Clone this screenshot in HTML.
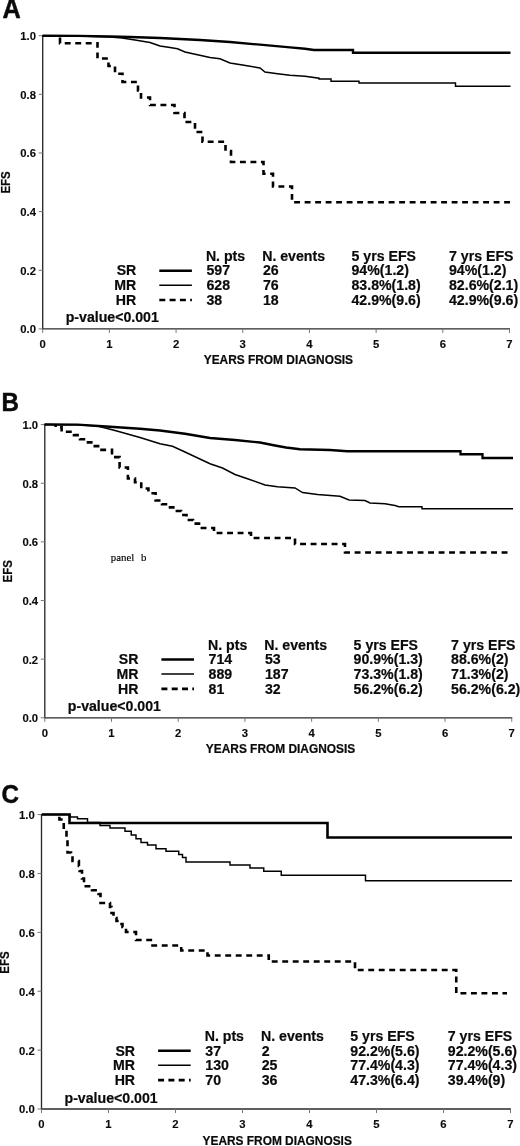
<!DOCTYPE html>
<html lang="en">
<head>
<meta charset="utf-8">
<title>EFS by risk group</title>
<style>
html,body{margin:0;padding:0;background:#fff;}
body{width:520px;height:1146px;overflow:hidden;}
svg{display:block;}
text{font-family:'Liberation Sans', Arial, Helvetica, sans-serif;font-weight:bold;fill:#0a0a0a;stroke:#0a0a0a;stroke-width:0.2px;}
.lg{font-size:14.15px;}
.tk{font-size:11.3px;stroke-width:0.12px;}
.ax{font-size:11.9px;}
.ef{font-size:12.4px;}
.pl{font-size:26px;stroke-width:0.5px;}
.cv{fill:none;stroke:#000;stroke-linejoin:miter;stroke-linecap:butt;}
.axl{fill:none;stroke:#2a2a2a;stroke-width:1.35;}
.tick{fill:none;stroke:#777;stroke-width:1;}
.note{font-family:'Liberation Serif','Times New Roman',serif;font-weight:normal;font-size:10.8px;word-spacing:4.2px;fill:#000;stroke:#000;stroke-width:0.15px;}
</style>
</head>
<body>
<svg width="520" height="1146" viewBox="0 0 520 1146">
<rect x="0" y="0" width="520" height="1146" fill="#ffffff"/>

<g>
<text class="pl" style="font-size:27.5px" transform="translate(2.5,18) scale(0.92,1)">A</text>
<path class="axl" d="M42.7,35.2 V328.9 H510"/>
<path class="tick" d="M38.7,328.9 H42.7 M38.7,270.26 H42.7 M38.7,211.62 H42.7 M38.7,152.98 H42.7 M38.7,94.34 H42.7 M38.7,35.7 H42.7 M42.7,328.9 V332.9 M109.386,328.9 V332.9 M176.071,328.9 V332.9 M242.757,328.9 V332.9 M309.443,328.9 V332.9 M376.129,328.9 V332.9 M442.814,328.9 V332.9 M509.5,328.9 V332.9"/>
<text class="tk" text-anchor="end" x="36" y="333.3">0.0</text>
<text class="tk" text-anchor="end" x="36" y="274.66">0.2</text>
<text class="tk" text-anchor="end" x="36" y="216.02">0.4</text>
<text class="tk" text-anchor="end" x="36" y="157.38">0.6</text>
<text class="tk" text-anchor="end" x="36" y="98.74">0.8</text>
<text class="tk" text-anchor="end" x="36" y="40.1">1.0</text>
<text class="tk" text-anchor="middle" x="42.7" y="347.8">0</text>
<text class="tk" text-anchor="middle" x="109.386" y="347.8">1</text>
<text class="tk" text-anchor="middle" x="176.071" y="347.8">2</text>
<text class="tk" text-anchor="middle" x="242.757" y="347.8">3</text>
<text class="tk" text-anchor="middle" x="309.443" y="347.8">4</text>
<text class="tk" text-anchor="middle" x="376.129" y="347.8">5</text>
<text class="tk" text-anchor="middle" x="442.814" y="347.8">6</text>
<text class="tk" text-anchor="middle" x="509.5" y="347.8">7</text>
<text class="ax" text-anchor="middle" x="278.4" y="364.4">YEARS FROM DIAGNOSIS</text>
<text class="ef" text-anchor="middle" transform="translate(10.1,182.4) rotate(-90) scale(0.93,1)">EFS</text>
<path class="cv" stroke-width="1.45" d="M42.5,35.75 L78,36 L110,37 L122,38 L135,40 L150,42.5 L160,46 L170,47.5 L177.5,48.75 L185,52 L210,57.5 L220,58.75 L230,63 L242.5,65 L260,68 L265,72 L277.5,73.75 L290,75.3 L305,76.25 L319,78.25 V79 H331 V81.25 H359 V83 H455.5 V86.3 H510.5"/>
<path class="cv" stroke-width="2.6" stroke-dasharray="5.9 4.6" stroke-dashoffset="8.8" d="M60,35.75 V43.2 H97.5 V58.5 H108.5 V66 H115 V73.75 H122.5 V82 H138 V90.5 H141 V97.5 H150 V105 H174.5 V113 H184.5 V122 H195 V132 H202.5 V141.75 H225.5 V151 H231 V162 H263.5 V173.75 H273 V186.5 H292 V202.3 H510.5"/>
<path class="cv" stroke-width="2.35" d="M42.5,35.75 L78,35.9 L110,36.5 L130,37 L160,38 L200,40 L230,42 L260,44.7 L290,47.3 L305,48.75 L314,50 H353 V52.7 H510.5"/>
<text class="lg" x="205.9" y="260.9">N. pts</text>
<text class="lg" x="262.2" y="260.9">N. events</text>
<text class="lg" x="351.5" y="260.9">5 yrs EFS</text>
<text class="lg" x="449" y="260.9">7 yrs EFS</text>
<text class="lg" text-anchor="end" x="136.3" y="275.4">SR</text>
<text class="lg" x="206.5" y="275.4">597</text>
<text class="lg" x="262.9" y="275.4">26</text>
<text class="lg" x="351.5" y="275.4">94%(1.2)</text>
<text class="lg" x="449" y="275.4">94%(1.2)</text>
<path class="cv" stroke-width="2.5" d="M159.3,270.7 H191.9"/>
<text class="lg" text-anchor="end" x="136.3" y="289.9">MR</text>
<text class="lg" x="206.5" y="289.9">628</text>
<text class="lg" x="262.9" y="289.9">76</text>
<text class="lg" x="351.5" y="289.9">83.8%(1.8)</text>
<text class="lg" x="449" y="289.9">82.6%(2.1)</text>
<path class="cv" stroke-width="1.5" d="M159.3,285.2 H191.9"/>
<text class="lg" text-anchor="end" x="136.3" y="304.7">HR</text>
<text class="lg" x="206.5" y="304.7">38</text>
<text class="lg" x="262.9" y="304.7">18</text>
<text class="lg" x="351.5" y="304.7">42.9%(9.6)</text>
<text class="lg" x="449" y="304.7">42.9%(9.6)</text>
<path class="cv" stroke-width="2.6" stroke-dasharray="6 4.3" d="M159.3,300 H191.9"/>
<text class="lg" x="65.7" y="322.4">p-value&lt;0.001</text>
</g>
<g>
<text class="pl" style="font-size:26.3px" transform="translate(1.5,410.6) scale(0.92,1)">B</text>
<path class="axl" d="M44.8,424.1 V717.8 H512.25"/>
<path class="tick" d="M40.8,717.8 H44.8 M40.8,659.16 H44.8 M40.8,600.52 H44.8 M40.8,541.88 H44.8 M40.8,483.24 H44.8 M40.8,424.6 H44.8 M44.8,717.8 V721.8 M111.507,717.8 V721.8 M178.214,717.8 V721.8 M244.921,717.8 V721.8 M311.629,717.8 V721.8 M378.336,717.8 V721.8 M445.043,717.8 V721.8 M511.75,717.8 V721.8"/>
<text class="tk" text-anchor="end" x="38.1" y="722.2">0.0</text>
<text class="tk" text-anchor="end" x="38.1" y="663.56">0.2</text>
<text class="tk" text-anchor="end" x="38.1" y="604.92">0.4</text>
<text class="tk" text-anchor="end" x="38.1" y="546.28">0.6</text>
<text class="tk" text-anchor="end" x="38.1" y="487.64">0.8</text>
<text class="tk" text-anchor="end" x="38.1" y="429">1.0</text>
<text class="tk" text-anchor="middle" x="44.8" y="736.7">0</text>
<text class="tk" text-anchor="middle" x="111.507" y="736.7">1</text>
<text class="tk" text-anchor="middle" x="178.214" y="736.7">2</text>
<text class="tk" text-anchor="middle" x="244.921" y="736.7">3</text>
<text class="tk" text-anchor="middle" x="311.629" y="736.7">4</text>
<text class="tk" text-anchor="middle" x="378.336" y="736.7">5</text>
<text class="tk" text-anchor="middle" x="445.043" y="736.7">6</text>
<text class="tk" text-anchor="middle" x="511.75" y="736.7">7</text>
<text class="ax" text-anchor="middle" x="280.5" y="753.3">YEARS FROM DIAGNOSIS</text>
<text class="ef" text-anchor="middle" transform="translate(12.2,571.3) rotate(-90) scale(0.93,1)">EFS</text>
<path class="cv" stroke-width="1.45" d="M44.5,424.5 L77.5,424.9 L97.5,426 L115,430.5 L140,437.5 L160,443.75 L172.5,446.25 L185,452 L210,463.75 L222.5,468 L235,474.5 L247.5,478.75 L265,485 L277.5,486.75 L295,488 L302.5,492.5 L317.5,494.5 L340,496.25 L349,500 L365,500.5 L370,503 L385,503.75 L395,505.5 L398.75,506.75 H422 V508.75 H513"/>
<path class="cv" stroke-width="2.6" stroke-dasharray="5.9 4.6" stroke-dashoffset="3.5" d="M55.6,424.5 V427 H61.6 V431.75 H74 V435.1 H80 V439.25 H86.5 V442.4 H93.3 V446.1 H99.6 V449.9 H112 V457.1 H119.6 V467.5 H127.9 V478.5 H135 V482.25 H141.25 V488.5 H148.4 V493.2 H155.6 V500.5 H162 V504.25 H168 V507.4 H175 V511 H181 V515 H186.5 V520 H193 V523.6 H199 V528 H214 V533 H251 V538 H295 V544 H345 V552.5 H511"/>
<path class="cv" stroke-width="2.3" d="M44.5,424.5 L77.5,424.7 L102.5,426.25 L140,428.75 L160,430.5 L185,433.75 L210,438 L235,440 L260,442.5 L275,445.5 L286,447.5 L300,449.25 L330,450 L347.5,451.25 H460.5 V454.25 H482.5 V458 H513"/>
<text class="lg" x="208" y="649.8">N. pts</text>
<text class="lg" x="264.3" y="649.8">N. events</text>
<text class="lg" x="353.6" y="649.8">5 yrs EFS</text>
<text class="lg" x="451.1" y="649.8">7 yrs EFS</text>
<text class="lg" text-anchor="end" x="138.4" y="664.3">SR</text>
<text class="lg" x="208.6" y="664.3">714</text>
<text class="lg" x="265" y="664.3">53</text>
<text class="lg" x="353.6" y="664.3">90.9%(1.3)</text>
<text class="lg" x="451.1" y="664.3">88.6%(2)</text>
<path class="cv" stroke-width="2.5" d="M161.4,659.6 H194"/>
<text class="lg" text-anchor="end" x="138.4" y="678.8">MR</text>
<text class="lg" x="208.6" y="678.8">889</text>
<text class="lg" x="265" y="678.8">187</text>
<text class="lg" x="353.6" y="678.8">73.3%(1.8)</text>
<text class="lg" x="451.1" y="678.8">71.3%(2)</text>
<path class="cv" stroke-width="1.5" d="M161.4,674.1 H194"/>
<text class="lg" text-anchor="end" x="138.4" y="693.6">HR</text>
<text class="lg" x="208.6" y="693.6">81</text>
<text class="lg" x="265" y="693.6">32</text>
<text class="lg" x="353.6" y="693.6">56.2%(6.2)</text>
<text class="lg" x="451.1" y="693.6">56.2%(6.2)</text>
<path class="cv" stroke-width="2.6" stroke-dasharray="6 4.3" d="M161.4,688.9 H194"/>
<text class="lg" x="67.8" y="711.3">p-value&lt;0.001</text>
<text class="note" x="110.8" y="560.8">panel b</text>
</g>
<g>
<text class="pl" style="font-size:26.3px" transform="translate(1.6,803.1) scale(0.92,1)">C</text>
<path class="axl" d="M41.5,814.1 V1109 H511"/>
<path class="tick" d="M37.5,1109 H41.5 M37.5,1050.12 H41.5 M37.5,991.24 H41.5 M37.5,932.36 H41.5 M37.5,873.48 H41.5 M37.5,814.6 H41.5 M41.5,1109 V1113 M108.5,1109 V1113 M175.5,1109 V1113 M242.5,1109 V1113 M309.5,1109 V1113 M376.5,1109 V1113 M443.5,1109 V1113 M510.5,1109 V1113"/>
<text class="tk" text-anchor="end" x="34.8" y="1113.4">0.0</text>
<text class="tk" text-anchor="end" x="34.8" y="1054.52">0.2</text>
<text class="tk" text-anchor="end" x="34.8" y="995.64">0.4</text>
<text class="tk" text-anchor="end" x="34.8" y="936.76">0.6</text>
<text class="tk" text-anchor="end" x="34.8" y="877.88">0.8</text>
<text class="tk" text-anchor="end" x="34.8" y="819">1.0</text>
<text class="tk" text-anchor="middle" x="41.5" y="1127.9">0</text>
<text class="tk" text-anchor="middle" x="108.5" y="1127.9">1</text>
<text class="tk" text-anchor="middle" x="175.5" y="1127.9">2</text>
<text class="tk" text-anchor="middle" x="242.5" y="1127.9">3</text>
<text class="tk" text-anchor="middle" x="309.5" y="1127.9">4</text>
<text class="tk" text-anchor="middle" x="376.5" y="1127.9">5</text>
<text class="tk" text-anchor="middle" x="443.5" y="1127.9">6</text>
<text class="tk" text-anchor="middle" x="510.5" y="1127.9">7</text>
<text class="ax" text-anchor="middle" x="277.2" y="1144.5">YEARS FROM DIAGNOSIS</text>
<text class="ef" text-anchor="middle" transform="translate(8.9,962.5) rotate(-90) scale(0.93,1)">EFS</text>
<path class="cv" stroke-width="1.45" d="M41.8,814.5 H70 V817 H77.5 V818.75 H87.5 V822.5 H100 V825.5 H110 V828 H125 V831.25 H131.25 V835 H136 V838.75 H141 V842.5 H147.5 V845 H156 V848.75 H166 V851.25 H178.75 V854.5 H182.5 V857.5 H186 V862 H230 V865 H250 V868 H263.75 V871.25 H281.25 V875.25 H365.5 V880.75 H512"/>
<path class="cv" stroke-width="2.6" stroke-dasharray="5.9 4.6" stroke-dashoffset="8.15" d="M59.4,814.5 V819.5 H63.75 V830 H66.5 V838 H67.5 V852.5 H71 V857.5 H72.5 V861 H78.9 V866 H79.6 V871 H82 V878.5 H84 V886.25 H92 V890.25 H98.5 V894 H100.5 V903 H110 V907 H111.5 V913 H113.5 V918 H116.5 V921 H119 V924 H122.5 V927 H126 V932 H136 V940 H152.5 V945.5 H181.25 V950.5 H207.5 V955.5 H268.75 V961.5 H355 V970 H456.25 V993.3 H507"/>
<path class="cv" stroke-width="2.6" d="M41.8,814.5 H69.5 V823 H327.5 V837.5 H512"/>
<text class="lg" x="204.7" y="1041">N. pts</text>
<text class="lg" x="261" y="1041">N. events</text>
<text class="lg" x="350.3" y="1041">5 yrs EFS</text>
<text class="lg" x="447.8" y="1041">7 yrs EFS</text>
<text class="lg" text-anchor="end" x="135.1" y="1055.5">SR</text>
<text class="lg" x="205.3" y="1055.5">37</text>
<text class="lg" x="261.7" y="1055.5">2</text>
<text class="lg" x="350.3" y="1055.5">92.2%(5.6)</text>
<text class="lg" x="447.8" y="1055.5">92.2%(5.6)</text>
<path class="cv" stroke-width="2.6" d="M158.1,1050.8 H190.7"/>
<text class="lg" text-anchor="end" x="135.1" y="1070">MR</text>
<text class="lg" x="205.3" y="1070">130</text>
<text class="lg" x="261.7" y="1070">25</text>
<text class="lg" x="350.3" y="1070">77.4%(4.3)</text>
<text class="lg" x="447.8" y="1070">77.4%(4.3)</text>
<path class="cv" stroke-width="1.5" d="M158.1,1065.3 H190.7"/>
<text class="lg" text-anchor="end" x="135.1" y="1084.8">HR</text>
<text class="lg" x="205.3" y="1084.8">70</text>
<text class="lg" x="261.7" y="1084.8">36</text>
<text class="lg" x="350.3" y="1084.8">47.3%(6.4)</text>
<text class="lg" x="447.8" y="1084.8">39.4%(9)</text>
<path class="cv" stroke-width="2.6" stroke-dasharray="6 4.3" d="M158.1,1080.1 H190.7"/>
<text class="lg" x="64.5" y="1102.5">p-value&lt;0.001</text>
</g>
</svg>
</body>
</html>
